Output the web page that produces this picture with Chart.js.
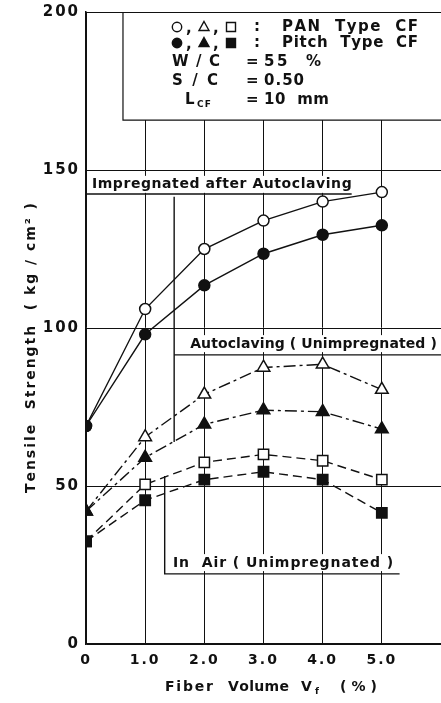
<!DOCTYPE html>
<html>
<head>
<meta charset="utf-8">
<script src="https://cdn.jsdelivr.net/npm/chart.js@4.4.1/dist/chart.umd.min.js"></script>
<style>
  html, body { margin: 0; padding: 0; background: #fff; overflow: hidden; }
  canvas { display: block; }
</style>
</head>
<body>
<canvas id="chart" width="441" height="703"></canvas>
<script>
'use strict'

/* global Chart */

// fiber volume Vf (%)
const fiberVolume = [0, 1, 2, 3, 4, 5]
const xTickLabels = ['0', '1.0', '2.0', '3.0', '4.0', '5.0']

// tensile strength (kg/cm2)
const impregnatedPAN = [69, 106, 125, 134, 140, 143]
const impregnatedPitch = [69, 98, 113.5, 123.5, 129.5, 132.5]
const autoclavePAN = [42, 65.5, 79, 87.5, 88.5, 80.5]
const autoclavePitch = [42, 59, 69.5, 74, 73.5, 68]
const airPAN = [32.5, 50.5, 57.5, 60, 58, 52]
const airPitch = [32.5, 45.5, 52, 54.5, 52, 41.5]

const groupLabels = ['Impregnated after Autoclaving', 'Autoclaving ( Unimpregnated )', 'In  Air ( Unimpregnated )']
const legendText = ['PAN  Type  CF', 'Pitch  Type  CF']
const mixText = [['W / C', '55  %'], ['S / C', '0.50'], ['L', '10  mm']]

const INK = '#111'
const FONT = '"DejaVu Sans", sans-serif'

function series (label, values, style, filled, dash) {
  return {
    label,
    data: fiberVolume.map((x, i) => ({ x, y: values[i] })),
    borderColor: INK,
    borderWidth: 1.4,
    borderDash: dash,
    pointStyle: style,
    pointRadius: style === 'circle' ? 5.5 : 7.3,
    pointBackgroundColor: filled ? INK : '#fff',
    pointBorderColor: INK,
    pointBorderWidth: 1.5,
    tension: 0
  }
}

// draw text spread out over a given width (the original lettering is wide)
function spaced (ctx, text, left, y, width) {
  const chars = [...text]
  const widths = chars.map(c => ctx.measureText(c).width)
  const total = widths.reduce((a, b) => a + b, 0)
  const gap = chars.length > 1 ? (width - total) / (chars.length - 1) : 0
  let x = left
  chars.forEach((c, i) => {
    ctx.fillText(c, x, y)
    x += widths[i] + gap
  })
}

function marker (ctx, style, filled, x, y) {
  ctx.beginPath()
  if (style === 'circle') {
    ctx.arc(x, y, 4.7, 0, Math.PI * 2)
  } else if (style === 'triangle') {
    ctx.moveTo(x, y - 5.5)
    ctx.lineTo(x + 5, y + 3.5)
    ctx.lineTo(x - 5, y + 3.5)
    ctx.closePath()
  } else {
    ctx.rect(x - 4.5, y - 4.5, 9, 9)
  }
  ctx.fillStyle = filled ? INK : '#fff'
  ctx.fill()
  ctx.lineWidth = 1.4
  ctx.strokeStyle = INK
  ctx.stroke()
}

const annotate = {
  id: 'annotate',
  afterLayout (chart) {
    // pin the plot area: it runs right up to the page edge like the scan
    const a = chart.chartArea
    a.left = 86
    a.top = 12
    a.right = chart.width
    a.bottom = 644
    a.width = a.right - a.left
    a.height = a.bottom - a.top
    const x = chart.scales.x
    x.left = a.left
    x.right = a.right
    x.width = a.width
    x.configure()
    const y = chart.scales.y
    y.top = a.top
    y.bottom = a.bottom
    y.height = a.height
    y.configure()
  },
  beforeDraw (chart) {
    // wide letter spacing for the tick labels
    chart.ctx.letterSpacing = '2px'
  },
  beforeDatasetsDraw (chart) {
    const ctx = chart.ctx
    const sx = v => chart.scales.x.getPixelForValue(v)
    const sy = v => chart.scales.y.getPixelForValue(v)
    ctx.save()
    ctx.letterSpacing = '0px'
    ctx.strokeStyle = INK
    ctx.fillStyle = INK
    ctx.lineWidth = 1.2
    ctx.textBaseline = 'middle'
    ctx.textAlign = 'left'

    // condition box in the top right corner
    const bl = sx(0.625)
    const bb = sy(165.8)
    const bt = sy(200)
    ctx.fillStyle = '#fff'
    ctx.fillRect(bl, bt + 1, chart.chartArea.right - bl, bb - bt - 1)
    ctx.beginPath()
    ctx.moveTo(bl, bt)
    ctx.lineTo(bl, bb)
    ctx.lineTo(chart.chartArea.right, bb)
    ctx.stroke()

    const rows = [27, 43, 62, 81, 100]
    const styles = ['circle', 'triangle', 'rect']
    for (let r = 0; r < 2; r++) {
      const y = rows[r]
      styles.forEach((s, i) => marker(ctx, s, r === 1, 177 + i * 27, y))
      ctx.fillStyle = INK
      ctx.font = 'bold 15px ' + FONT
      ctx.fillText(',', 186, y + 2)
      ctx.fillText(',', 213, y + 2)
      ctx.fillText(':', 254, y)
      spaced(ctx, legendText[r], 282, y, 136)
    }
    const mixLeft = [172, 172, 185]
    const mixW = [48, 46, 10]
    const valW = [57, 40, 65]
    mixText.forEach((m, i) => {
      const y = rows[i + 2]
      ctx.font = 'bold 15px ' + FONT
      spaced(ctx, m[0], mixLeft[i], y, mixW[i])
      ctx.fillText('=', 246, y)
      spaced(ctx, m[1], 264, y, valW[i])
      if (i === 2) {
        ctx.font = 'bold 9px ' + FONT
        spaced(ctx, 'CF', 197, y + 5, 14)
      }
    })

    // group labels with their underline brackets
    const label = (text, x0, x1, yv, fontPx) => {
      const l = sx(x0)
      const r = sx(x1)
      const y = sy(yv)
      ctx.fillStyle = '#fff'
      ctx.fillRect(l - 2, y - 9, r - l + 4, 17)
      ctx.fillStyle = INK
      ctx.font = 'bold ' + fontPx + 'px ' + FONT
      spaced(ctx, text, l, y, r - l)
    }
    const path = pts => {
      ctx.beginPath()
      pts.forEach(([x, y], i) => {
        if (i === 0) ctx.moveTo(sx(x), sy(y))
        else ctx.lineTo(sx(x), sy(y))
      })
      ctx.stroke()
    }

    label(groupLabels[0], 0.1, 4.49, 145.3, 14)
    path([[0, 142.4], [4.49, 142.4]])

    label(groupLabels[1], 1.76, 5.93, 94.9, 14)
    path([[1.49, 141.5], [1.49, 63.9]])
    path([[1.49, 91.5], [6, 91.5]])

    label(groupLabels[2], 1.47, 5.19, 25.6, 14)
    path([[1.33, 53.2], [1.33, 22.2], [5.3, 22.2]])

    ctx.restore()
  },
  afterDraw (chart) {
    const ctx = chart.ctx
    ctx.save()
    ctx.letterSpacing = '0px'
    ctx.fillStyle = INK
    ctx.textBaseline = 'middle'
    ctx.textAlign = 'left'

    // x axis title
    ctx.font = 'bold 14px ' + FONT
    spaced(ctx, 'Fiber', 165, 687, 48)
    spaced(ctx, 'Volume', 228, 687, 61)
    ctx.fillText('V', 301, 687)
    ctx.font = 'bold 9px ' + FONT
    ctx.fillText('f', 315, 692)
    ctx.font = 'bold 14px ' + FONT
    spaced(ctx, '(%)', 340, 687, 37)

    // y axis title
    ctx.translate(31, 348)
    ctx.rotate(-Math.PI / 2)
    spaced(ctx, 'Tensile  Strength  ( kg / cm² )', -145, 0, 290)
    ctx.restore()
  }
}

const chart = new Chart(document.getElementById('chart'), {
  type: 'line',
  data: {
    datasets: [
      series('Impregnated, Pitch', impregnatedPitch, 'circle', true, []),
      series('Impregnated, PAN', impregnatedPAN, 'circle', false, []),
      series('Autoclaving, Pitch', autoclavePitch, 'triangle', true, [12, 4, 3, 4]),
      series('Autoclaving, PAN', autoclavePAN, 'triangle', false, [12, 4, 3, 4]),
      series('In Air, Pitch', airPitch, 'rect', true, [9, 5]),
      series('In Air, PAN', airPAN, 'rect', false, [9, 5])
    ]
  },
  options: {
    responsive: false,
    animation: false,
    layout: {
      padding: { top: 12, right: 0, bottom: 0, left: 0 }
    },
    plugins: {
      legend: { display: false },
      tooltip: { enabled: false }
    },
    scales: {
      x: {
        type: 'linear',
        min: 0,
        max: 6,
        afterBuildTicks: (scale) => {
          scale.ticks = fiberVolume.map(v => ({ value: v }))
        },
        afterFit: (scale) => {
          scale.height = 59
        },
        grid: { color: INK, lineWidth: 1, drawTicks: false },
        border: { color: INK, width: 1.5 },
        ticks: {
          color: INK,
          padding: 8,
          maxRotation: 0,
          font: { family: FONT, size: 14, weight: 'bold' },
          callback: (v, i) => xTickLabels[i]
        }
      },
      y: {
        min: 0,
        max: 200,
        afterFit: (scale) => {
          scale.width = 86
        },
        grid: { color: INK, lineWidth: 1, drawTicks: false },
        border: { color: INK, width: 1.5 },
        ticks: {
          stepSize: 50,
          color: INK,
          padding: 6,
          font: { family: FONT, size: 15, weight: 'bold' }
        }
      }
    }
  },
  plugins: [annotate]
})
</script>
</body>
</html>
